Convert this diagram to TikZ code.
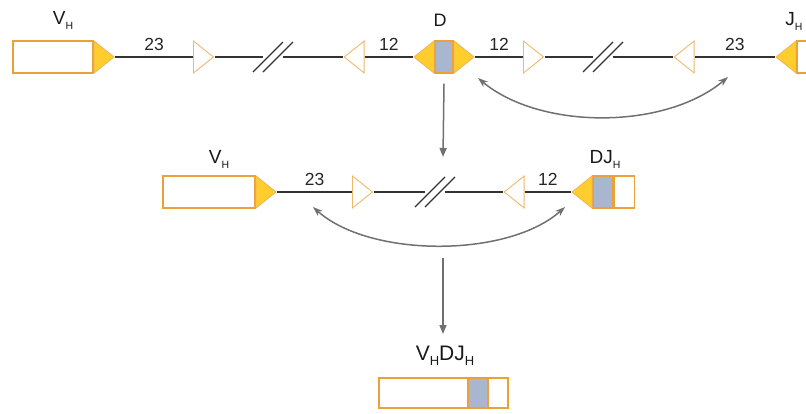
\documentclass[tikz,border=0pt]{standalone}
\usepackage{fontspec}
\setmainfont{Liberation Sans}
\usetikzlibrary{positioning,arrows.meta,calc,shapes.geometric}
\definecolor{segorange}{RGB}{236,160,56}
\definecolor{rssyellow}{RGB}{255,206,45}
\definecolor{dgray}{RGB}{168,182,208}
\definecolor{arrgray}{RGB}{112,112,112}
\newcommand{\gsub}[2][10.5]{\raisebox{-0.5ex}{\fontsize{#1}{#1}\selectfont #2}}
\tikzset{
  gbox/.style={draw=segorange,line width=1.3pt,fill=white,inner sep=0pt,minimum height=32pt},
  dseg/.style={gbox,fill=dgray,minimum width=20pt},
  ytri/.style={isosceles triangle,isosceles triangle stretches,draw=segorange!80,fill=rssyellow,
    line width=0.8pt,inner sep=0pt,minimum width=32pt,minimum height=20pt},
  otri/.style={isosceles triangle,isosceles triangle stretches,draw=segorange!75,fill=white,
    line width=0.9pt,inner sep=0pt,minimum width=32pt,minimum height=20pt},
  strand/.style={line width=1.3pt,black!80},
  brk/.style={line width=1.3pt,black!80},
  num/.style={midway,above,inner sep=5.5pt,font=\fontsize{17.5}{19}\selectfont,text=black!85},
  glbl/.style={anchor=base,font=\fontsize{19}{21}\selectfont,text=black!90},
  flowarr/.style={-{Triangle[length=9pt,width=7pt]},line width=1.5pt,arrgray},
  recomb/.style={{Stealth[length=10pt,width=7pt]}-{Stealth[length=10pt,width=7pt]},line width=1.5pt,arrgray},
}
\begin{document}
\begin{tikzpicture}[x=1pt,y=-1pt]
  \useasboundingbox (0,0) rectangle (806,413);
  \clip (0,0) rectangle (806,413);
  % top: germline heavy-chain locus
  \node[gbox,minimum width=80pt] (VHa) at (53,57) {};
  \node[ytri,right=0pt of VHa] (VHaR) {};
  \node[otri,anchor=west] (oA1) at (193,57) {};
  \node[otri,shape border rotate=180,anchor=west] (oA2) at (343,57) {};
  \node[dseg,minimum width=18pt] (Da) at (444,57) {};
  \node[ytri,shape border rotate=180,left=0pt of Da] (DaL) {};
  \node[ytri,right=0pt of Da] (DaR) {};
  \node[otri,anchor=west] (oA3) at (523,57) {};
  \node[otri,shape border rotate=180,anchor=west] (oA4) at (673,57) {};
  \node[ytri,shape border rotate=180,anchor=west] (JHaL) at (775,57) {};
  \node[gbox,minimum width=60pt,right=0pt of JHaL] (JHa) {};
  \coordinate (brkA) at (273,57);
  \coordinate (brkB) at (603,57);
  \draw[strand] (VHaR.east) -- node[num]{23} (oA1.west);
  \draw[strand] (oA1.east) -- ([xshift=-10pt]brkA);
  \draw[strand] ([xshift=10pt]brkA) -- (oA2.west);
  \draw[strand] (oA2.east) -- node[num]{12} (DaL.west);
  \draw[strand] (DaR.east) -- node[num]{12} (oA3.west);
  \draw[strand] (oA3.east) -- ([xshift=-10pt]brkB);
  \draw[strand] ([xshift=10pt]brkB) -- (oA4.west);
  \draw[strand] (oA4.east) -- node[num]{23} (JHaL.west);
  \draw[brk] ([xshift=-5pt]brkA) ++(-15,15) -- ++(30,-30);
  \draw[brk] ([xshift=5pt]brkA) ++(-15,15) -- ++(30,-30);
  \draw[brk] ([xshift=-5pt]brkB) ++(-15,15) -- ++(30,-30);
  \draw[brk] ([xshift=5pt]brkB) ++(-15,15) -- ++(30,-30);
  \node[glbl] (lVHa) at (63,24) {V\gsub{H}};
  \node[glbl,font=\fontsize{18}{20}\selectfont] (lDa) at (440,26) {D};
  \node[glbl] (lJHa) at (794,25) {J\gsub{H}};
  \coordinate (swA1) at (478,78);
  \coordinate (swA2) at (728,77);
  \draw[recomb] (swA1) .. controls (540,130) and (665,130) .. (swA2);
  \coordinate (inB) at (443,157);
  \draw[flowarr] ([yshift=-10pt]Da.south) -- (inB);
  % middle: D joined to J
  \node[gbox,minimum width=92pt] (VHb) at (209,192) {};
  \node[ytri,right=0pt of VHb] (VHbR) {};
  \node[otri,anchor=west] (oB1) at (352,192) {};
  \node[otri,shape border rotate=180,anchor=west] (oB2) at (503,192) {};
  \node[dseg] (DJb) at (603,192) {};
  \node[ytri,shape border rotate=180,left=0pt of DJb] (DJbL) {};
  \node[gbox,minimum width=20pt,right=0pt of DJb] (JHb) {};
  \coordinate (brkC) at (435,192);
  \draw[strand] (VHbR.east) -- node[num]{23} (oB1.west);
  \draw[strand] (oB1.east) -- ([xshift=-10pt]brkC);
  \draw[strand] ([xshift=10pt]brkC) -- (oB2.west);
  \draw[strand] (oB2.east) -- node[num]{12} (DJbL.west);
  \draw[brk] ([xshift=-5pt]brkC) ++(-15,15) -- ++(30,-30);
  \draw[brk] ([xshift=5pt]brkC) ++(-15,15) -- ++(30,-30);
  \node[glbl] (lVHb) at (219,163) {V\gsub{H}};
  \node[glbl] (lDJb) at (605,163) {DJ\gsub{H}};
  \coordinate (swB1) at (313,207);
  \coordinate (swB2) at (565,207);
  \draw[recomb] (swB1) .. controls (370,258) and (508,258) .. (swB2);
  \coordinate (outB) at (443,258);
  \coordinate (inC) at (443,334);
  \draw[flowarr] (outB) -- (inC);
  % bottom: rearranged VDJ
  \node[gbox,minimum width=129pt,minimum height=30pt] (VDJ) at (443.5,393) {};
  \node[dseg,minimum height=30pt] (VDJd) at (478,393) {};
  \node[glbl,font=\fontsize{21}{23}\selectfont] (lVDJ) at (445,360)
    {V\gsub[13]{H}DJ\gsub[13]{H}};
\end{tikzpicture}
\end{document}
